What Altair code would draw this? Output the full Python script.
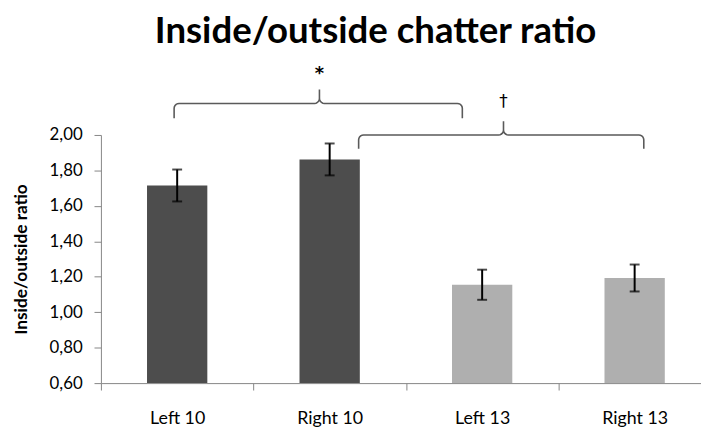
import altair as alt
import pandas as pd
import numpy as np

categories = ["Left 10", "Right 10", "Left 13", "Right 13"]
values = [1.715, 1.862, 1.155, 1.193]
errors = [0.090, 0.090, 0.085, 0.076]
groups = ["10", "10", "13", "13"]
y_ticks = [0.6, 0.8, 1.0, 1.2, 1.4, 1.6, 1.8, 2.0]

# significance braces (x in category units 0..4, y in data units)
brace_x0 = [0.48, 1.69]
brace_x1 = [2.37, 3.56]
brace_xm = [1.433, 2.64]
brace_line = [2.178, 2.000]
brace_end = [2.095, 1.922]
brace_tip = [2.256, 2.078]
brace_symbol = ["*", "†"]
symbol_y = [2.313, 2.160]

PX_X = 154.25  # pixels per category unit (for corner shape only)
PX_Y = 179.3   # pixels per data unit

bars = pd.DataFrame({"cat": categories, "val": values, "err": errors, "grp": groups})
bars["lo"] = bars["val"] - bars["err"]
bars["hi"] = bars["val"] + bars["err"]

rows = []
for b in range(len(brace_x0)):
    x0, x1, xm = brace_x0[b], brace_x1[b], brace_xm[b]
    yl, ye, yt = brace_line[b], brace_end[b], brace_tip[b]
    rx, ry = 5 / PX_X, 5 / PX_Y
    pts = [(x0, ye)]
    for a in np.linspace(np.pi, np.pi / 2, 6):
        pts.append((x0 + rx + rx * np.cos(a), yl - ry + ry * np.sin(a)))
    for a in np.linspace(-np.pi / 2, 0, 6):
        pts.append((xm - rx + rx * np.cos(a), yl + ry + ry * np.sin(a)))
    pts.append((xm, yt))
    for a in np.linspace(np.pi, 3 * np.pi / 2, 6):
        pts.append((xm + rx + rx * np.cos(a), yl + ry + ry * np.sin(a)))
    for a in np.linspace(np.pi / 2, 0, 6):
        pts.append((x1 - rx + rx * np.cos(a), yl - ry + ry * np.sin(a)))
    pts.append((x1, ye))
    for i, (px, py) in enumerate(pts):
        rows.append({"brace": b, "i": i, "q": px, "y": py})
braces = pd.DataFrame(rows)
symbols = pd.DataFrame({"q": brace_xm, "y": symbol_y, "s": brace_symbol, "k": [0, 1]})

RANGE = [0, 617]
yscale = alt.Scale(domain=[0.6, 2.0], zero=False, nice=False)
yaxis = alt.Axis(values=y_ticks,
                 labelExpr="replace(format(datum.value, '.2f'), '.', ',')",
                 grid=False, tickSize=7, tickColor="#868686", domainColor="#868686",
                 labelFont="Lato", labelFontSize=17, labelColor="black", labelPadding=12,
                 title="Inside/outside ratio", titleFont="Lato", titleFontSize=17.5,
                 titleFontWeight="bold", titleColor="black", titlePadding=19)
xband = alt.X("cat:N", sort=categories,
              scale=alt.Scale(domain=categories, range=RANGE, paddingInner=0, paddingOuter=0),
              axis=alt.Axis(title=None, tickBand="extent", tickSize=7, tickColor="#868686",
                            domainColor="#868686", labelAngle=0, labelFont="Lato",
                            labelFontSize=18, labelColor="black", labelPadding=20))

bar_layer = alt.Chart(bars).mark_bar(size=61).encode(
    x=xband, y=alt.Y("val:Q", scale=yscale, axis=yaxis), y2=alt.datum(0.6),
    color=alt.Color("grp:N", scale=alt.Scale(domain=["10", "13"], range=["#4d4d4d", "#afafaf"]),
                    legend=None))
err_layer = alt.Chart(bars).mark_rule(color="black", strokeWidth=2).encode(
    x=alt.X("cat:N", sort=categories), y=alt.Y("lo:Q", axis=yaxis), y2="hi:Q")
cap_lo = alt.Chart(bars).mark_tick(color="black", thickness=2, size=10).encode(
    x=alt.X("cat:N", sort=categories), y=alt.Y("lo:Q", axis=yaxis))
cap_hi = alt.Chart(bars).mark_tick(color="black", thickness=2, size=10).encode(
    x=alt.X("cat:N", sort=categories), y=alt.Y("hi:Q", axis=yaxis))

base = alt.layer(bar_layer, err_layer, cap_lo, cap_hi)

qx = alt.X("q:Q", scale=alt.Scale(domain=[0, 4], range=RANGE), axis=None)
brace_layer = alt.Chart(braces).mark_line(color="#5a5a5a", strokeWidth=1.6).encode(
    x=qx, y=alt.Y("y:Q", scale=yscale, axis=yaxis), detail="brace:N", order="i:Q")
star_layer = alt.Chart(symbols).transform_filter("datum.k == 0").mark_text(
    font="DejaVu Sans", fontSize=18, fontWeight="bold", color="black", baseline="alphabetic").encode(
    x=qx, y=alt.Y("y:Q", scale=yscale, axis=yaxis), text="s:N")
dagger_layer = alt.Chart(symbols).transform_filter("datum.k == 1").mark_text(
    font="DejaVu Sans", fontSize=17, color="black", baseline="alphabetic").encode(
    x=qx, y=alt.Y("y:Q", scale=yscale, axis=yaxis), text="s:N")
annot = alt.layer(brace_layer, star_layer, dagger_layer)

chart = alt.layer(base, annot).resolve_scale(x="independent").properties(
    width=607, height=251,
    title=alt.TitleParams("Inside/outside chatter ratio", font="Lato", fontSize=37,
                          fontWeight="bold", anchor="start", dx=144, offset=15, color="black"),
    autosize=alt.AutoSizeParams(type="none"),
    padding={"left": 94, "top": 126, "right": 0, "bottom": 45},
).configure_view(stroke=None)

chart.save("out.html", embed_options={"renderer": "svg", "actions": False})
